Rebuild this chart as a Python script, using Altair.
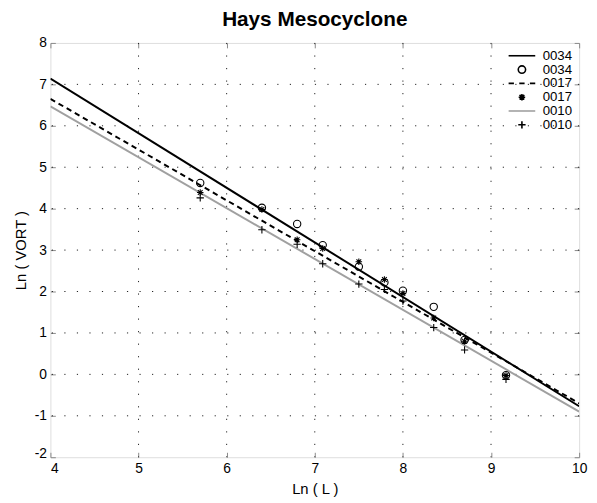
import altair as alt
import pandas as pd

# ---- data ----
x_obs = [5.70, 6.40, 6.80, 7.09, 7.50, 7.79, 8.00, 8.35, 8.70, 9.17]
obs_0034 = [4.62, 4.02, 3.63, 3.12, 2.60, 2.22, 2.02, 1.63, 0.83, -0.02]
obs_0017 = [4.39, 3.98, 3.25, 3.04, 2.72, 2.29, 1.95, 1.36, 0.80, -0.03]
obs_0010 = [4.26, 3.49, 3.14, 2.67, 2.18, 2.05, 1.77, 1.13, 0.59, -0.12]

fit_x = [4.0, 10.0]
fit_0034 = [7.14, -0.77]
fit_0017 = [6.65, -0.70]
fit_0010 = [6.47, -0.90]

x_ticks = [4, 5, 6, 7, 8, 9, 10]
y_ticks = [-2, -1, 0, 1, 2, 3, 4, 5, 6, 7, 8]
x_grid = [5, 6, 7, 8, 9]
y_grid = [-1, 0, 1, 2, 3, 4, 5, 6, 7]

keys = ["0034 fit", "0034 obs", "0017 fit", "0017 obs", "0010 fit", "0010 obs"]
key_colors = ["#000000", "#000000", "#000000", "#000000", "#a0a0a0", "#000000"]
key_shapes = [
    "M-2.25,0L2.25,0",
    "M-0.62,0A0.62,0.62,0,1,1,0.62,0A0.62,0.62,0,1,1,-0.62,0Z",
    "M-2.25,0L-1.35,0M-0.45,0L0.45,0M1.35,0L2.25,0",
    "M-0.55,0L0.55,0M0,-0.55L0,0.55M-0.4,-0.4L0.4,0.4M-0.4,0.4L0.4,-0.4",
    "M-2.25,0L2.25,0",
    "M-0.62,0L0.62,0M0,-0.62L0,0.62",
]

# ---- tables ----
fits = pd.DataFrame({
    "x": fit_x * 3,
    "y": fit_0034 + fit_0017 + fit_0010,
    "key": ["0034 fit"] * 2 + ["0017 fit"] * 2 + ["0010 fit"] * 2,
})
obs = pd.DataFrame({
    "x": x_obs * 3,
    "y": obs_0034 + obs_0017 + obs_0010,
    "key": ["0034 obs"] * len(x_obs) + ["0017 obs"] * len(x_obs) + ["0010 obs"] * len(x_obs),
})
xg = pd.DataFrame({"v": x_grid})
yg = pd.DataFrame({"v": y_grid})

xs = alt.Scale(domain=[4, 10], nice=False, zero=False)
ys = alt.Scale(domain=[-2, 8], nice=False, zero=False)

FONT = "Liberation Sans"
plain = "'' + datum.value"

ax_bottom = alt.Axis(orient="bottom", values=x_ticks, offset=-5, tickSize=5, domain=False,
                     grid=False, labelFontSize=14, labelPadding=4, labelFlush=False,
                     labelAlign={"expr": "datum.value == 4 ? 'left' : 'center'"},
                     labelExpr=plain, title="Ln ( L )",
                     titleFontSize=15, titleFontWeight="normal", titlePadding=7)
ax_top = alt.Axis(orient="top", values=x_ticks, offset=-5, tickSize=5, domain=False,
                  grid=False, labels=False, title=None)
ax_left = alt.Axis(orient="left", values=y_ticks, offset=-5, tickSize=5, domain=False,
                   grid=False, labelFontSize=14, labelPadding=4, labelFlush=False,
                   labelBaseline={"expr": "datum.value == -2 ? 'alphabetic' : 'middle'"},
                   labelExpr=plain, title="Ln ( VORT )",
                   titleFontSize=15, titleFontWeight="normal", titlePadding=6)
ax_right = alt.Axis(orient="right", values=y_ticks, offset=-5, tickSize=5, domain=False,
                    grid=False, labels=False, title=None)

grid_style = dict(color="#222222", strokeDash=[1.2, 11.5], strokeWidth=1)

xgrid = alt.Chart(xg).mark_rule(**grid_style).encode(
    x=alt.X("v:Q", scale=xs, axis=ax_top))
ygrid = alt.Chart(yg).mark_rule(**grid_style).encode(
    y=alt.Y("v:Q", scale=ys, axis=ax_right))

def fit_layer(key, color, dash, axes=False):
    enc_x = alt.X("x:Q", scale=xs, axis=ax_bottom if axes else None)
    enc_y = alt.Y("y:Q", scale=ys, axis=ax_left if axes else None)
    kw = dict(color=color, strokeWidth=2, clip=True)
    if dash:
        kw["strokeDash"] = dash
    return alt.Chart(fits).transform_filter(alt.datum.key == key).mark_line(**kw).encode(
        x=enc_x, y=enc_y)

line34 = fit_layer("0034 fit", "#000000", None, axes=True)
line17 = fit_layer("0017 fit", "#000000", [5.5, 4])
line10 = fit_layer("0010 fit", "#a0a0a0", None)

legend = alt.Legend(title=None, orient="none", legendX=471, legendY=6,
                    labelExpr="substring(datum.label, 0, 4)", labelFontSize=13.4,
                    labelFont=FONT, labelColor="#000000", symbolSize=144,
                    symbolStrokeWidth=1.6, labelOffset=14, rowPadding=-0.2, padding=0)

points = alt.Chart(obs).mark_point(filled=False, opacity=1, size=144, strokeWidth=1.1).encode(
    x=alt.X("x:Q", scale=xs, axis=None),
    y=alt.Y("y:Q", scale=ys, axis=None),
    color=alt.Color("key:N", scale=alt.Scale(domain=keys, range=key_colors), legend=legend),
    shape=alt.Shape("key:N", scale=alt.Scale(domain=keys, range=key_shapes), legend=legend),
)

chart = alt.layer(xgrid, ygrid, line10, line17, line34, points).properties(
    width=536,
    height=420,
    title=alt.TitleParams("Hays Mesocyclone", fontSize=21, fontWeight="bold", font=FONT,
                          anchor="middle", offset=6, color="#000000"),
    autosize=alt.AutoSizeParams(type="none"),
    padding={"left": 43, "top": 32, "right": 10, "bottom": 44},
).configure_axis(
    labelFont=FONT, titleFont=FONT, labelColor="#000000", titleColor="#000000",
    tickColor="#000000", tickWidth=1,
).configure_view(
    stroke="#000000", strokeWidth=1.5,
).configure(background="white")

chart.save("out.html", embed_options={"renderer": "svg", "actions": False})
